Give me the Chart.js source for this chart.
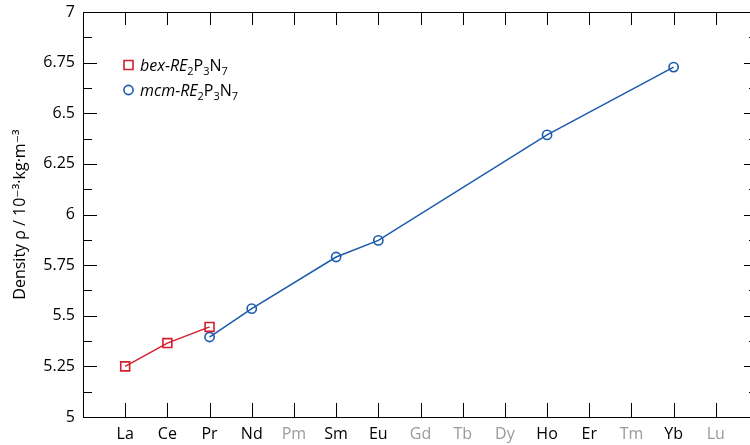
<!DOCTYPE html>
<html><head><meta charset="utf-8">
<script src="https://cdn.jsdelivr.net/npm/chart.js@4"></script>
<style>
html,body{margin:0;padding:0;background:#fff;overflow:hidden;width:750px;height:445px;}
#wrap{width:750px;height:445px;overflow:hidden;position:relative;}
canvas{display:block;}
</style></head>
<body>
<div id="wrap"><canvas id="c" width="770" height="445"></canvas></div>
<script>
const categories = ['La','Ce','Pr','Nd','Pm','Sm','Eu','Gd','Tb','Dy','Ho','Er','Tm','Yb','Lu'];
const greyLabels = ['Pm','Gd','Tb','Dy','Tm','Lu'];
const bexDensity = [5.25, 5.365, 5.445, null, null, null, null, null, null, null, null, null, null, null, null];
const mcmDensity = [null, null, 5.395, 5.535, null, 5.79, 5.872, null, null, null, 6.393, null, null, 6.728, null];
const yTickValues = [5, 5.25, 5.5, 5.75, 6, 6.25, 6.5, 6.75, 7];
const yMinorValues = [5.125, 5.375, 5.625, 5.875, 6.125, 6.375, 6.625, 6.875];

const RED = '#d31f2d';
const BLUE = '#1c5aad';
const FONT = '"Open Sans", "DejaVu Sans", sans-serif';

const toPoints = arr => arr.map((v, i) => ({x: i, y: v}));
const noPad = s => { s.paddingTop = 0; s.paddingBottom = 0; s.paddingLeft = 0; s.paddingRight = 0; };

const innerTicks = {
  id: 'innerTicks',
  afterDraw(chart) {
    const {ctx, chartArea: a, scales} = chart;
    ctx.save();
    ctx.strokeStyle = '#000';
    ctx.lineWidth = 1;
    ctx.beginPath();
    yTickValues.forEach(v => {
      const py = Math.round(scales.y.getPixelForValue(v)) + 0.5;
      ctx.moveTo(a.left, py); ctx.lineTo(a.left + 14, py);
      ctx.moveTo(a.right, py); ctx.lineTo(a.right - 14, py);
    });
    yMinorValues.forEach(v => {
      const py = Math.round(scales.y.getPixelForValue(v)) + 0.5;
      ctx.moveTo(a.left, py); ctx.lineTo(a.left + 9, py);
      ctx.moveTo(a.right, py); ctx.lineTo(a.right - 9, py);
    });
    categories.forEach((c, i) => {
      const px = Math.round(scales.x.getPixelForValue(i)) + 0.5;
      ctx.moveTo(px, a.bottom); ctx.lineTo(px, a.bottom - 14);
      ctx.moveTo(px, a.top); ctx.lineTo(px, a.top + 13);
    });
    ctx.stroke();

    // legend
    const drawEntry = (y, marker, color, prefix) => {
      ctx.strokeStyle = color;
      ctx.lineWidth = 1.6;
      ctx.beginPath();
      if (marker === 'rect') {
        ctx.rect(124, y - 4.5, 9, 9);
      } else {
        ctx.arc(128.5, y, 4.6, 0, Math.PI * 2);
      }
      ctx.stroke();
      ctx.fillStyle = '#000';
      ctx.textBaseline = 'alphabetic';
      ctx.textAlign = 'left';
      let x = 140;
      const base = y + 6;
      const put = (t, font, dy) => { ctx.font = font; ctx.fillText(t, x, base + dy); x += ctx.measureText(t).width; };
      put(prefix, 'italic 16px ' + FONT, 0);
      put('RE', 'italic 16px ' + FONT, 0);
      put('2', '11px ' + FONT, 4);
      put('P', '16px ' + FONT, 0);
      put('3', '11px ' + FONT, 4);
      put('N', '16px ' + FONT, 0);
      put('7', '11px ' + FONT, 4);
    };
    drawEntry(65, 'rect', RED, 'bex-');
    drawEntry(90, 'circle', BLUE, 'mcm-');
    ctx.restore();
  }
};

new Chart(document.getElementById('c'), {
  type: 'line',
  data: {
    datasets: [
      {
        label: 'bex-RE2P3N7', data: toPoints(bexDensity), borderColor: RED, backgroundColor: 'rgba(0,0,0,0)',
        borderWidth: 1.5, pointStyle: 'rect', pointRadius: 6.3, pointBorderWidth: 1.6,
        pointBorderColor: RED, pointBackgroundColor: 'rgba(0,0,0,0)', spanGaps: true, tension: 0
      },
      {
        label: 'mcm-RE2P3N7', data: toPoints(mcmDensity), borderColor: BLUE, backgroundColor: 'rgba(0,0,0,0)',
        borderWidth: 1.5, pointStyle: 'circle', pointRadius: 4.6, pointBorderWidth: 1.6,
        pointBorderColor: BLUE, pointBackgroundColor: 'rgba(0,0,0,0)', spanGaps: true, tension: 0
      }
    ]
  },
  options: {
    responsive: false,
    animation: false,
    devicePixelRatio: 1,
    layout: {padding: 0, autoPadding: false},
    plugins: {legend: {display: false}, tooltip: {enabled: false}},
    scales: {
      x: {
        type: 'linear', position: 'bottom', min: -1, max: 15,
        afterBuildTicks: s => { s.ticks = categories.map((c, i) => ({value: i})); },
        grid: {display: true, drawOnChartArea: false, drawTicks: false},
        border: {display: true, color: '#000', width: 1},
        ticks: {
          padding: 8, autoSkip: false, maxRotation: 0,
          font: {family: FONT, size: 16},
          callback: v => categories[v],
          color: ctx => greyLabels.includes(categories[ctx.tick.value]) ? '#9a9a9a' : '#000'
        },
        afterFit: s => { s.height = 28; noPad(s); }
      },
      x2: {
        type: 'linear', position: 'top', min: -1, max: 15,
        grid: {display: true, drawOnChartArea: false, drawTicks: false},
        border: {display: true, color: '#000', width: 1},
        ticks: {display: false},
        afterFit: s => { s.height = 12; noPad(s); }
      },
      y: {
        type: 'linear', position: 'left', min: 5, max: 7,
        afterBuildTicks: s => { s.ticks = yTickValues.map(v => ({value: v})); },
        grid: {display: true, drawOnChartArea: false, drawTicks: false},
        border: {display: true, color: '#000', width: 1},
        ticks: {padding: 8, font: {family: FONT, size: 16}, color: '#000',
          callback: v => String(v)},
        title: {display: true, text: 'Density ρ / 10⁻³·kg·m⁻³', color: '#000',
          font: {family: FONT, size: 16}, padding: {top: 11, bottom: 0}},
        afterFit: s => { s.width = 83; noPad(s); }
      },
      y2: {
        type: 'linear', position: 'right', min: 5, max: 7,
        grid: {display: true, drawOnChartArea: false, drawTicks: false},
        border: {display: true, color: '#000', width: 1},
        ticks: {display: false},
        afterFit: s => { s.width = 12; noPad(s); }
      }
    }
  },
  plugins: [innerTicks]
});
</script>
</body></html>
